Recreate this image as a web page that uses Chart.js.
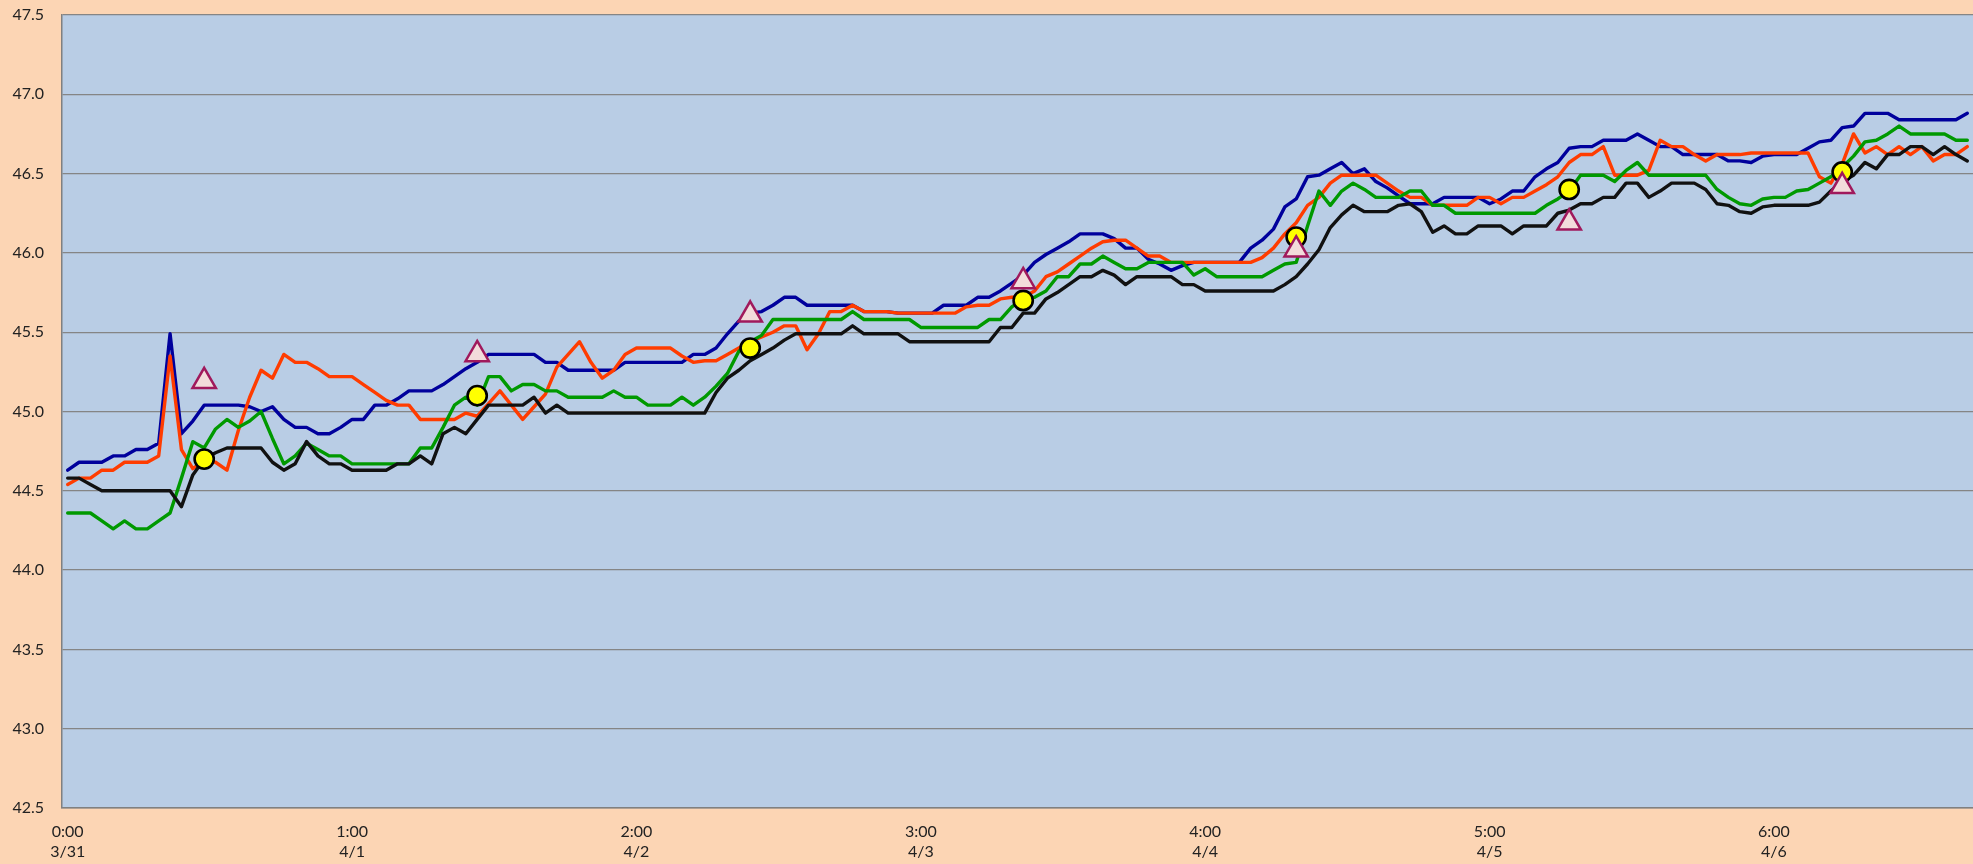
<!DOCTYPE html>
<html>
<head>
<meta charset="utf-8">
<title>Trend chart</title>
<script src="https://cdn.jsdelivr.net/npm/chart.js@4.4.0/dist/chart.umd.min.js"></script>
<style>
  html, body { margin: 0; padding: 0; background: #fcd5b4; overflow: hidden; }
  #trendChart { display: block; width: 1973px; height: 864px; }
</style>
</head>
<body>
<canvas id="trendChart" width="1973" height="864"></canvas>
<script>
// tick labels (one every 25 categories)
const timeLabels = ["0:00", "1:00", "2:00", "3:00", "4:00", "5:00", "6:00"]
const dateLabels = ["3/31", "4/1", "4/2", "4/3", "4/4", "4/5", "4/6"]
const labelEvery = 25
const pointCount = 168

// series values
const blue = [
  44.63, 44.68, 44.68, 44.68, 44.72, 44.72, 44.76, 44.76, 44.80, 45.49, 44.86, 44.94,
  45.04, 45.04, 45.04, 45.04, 45.03, 45.00, 45.03, 44.95, 44.90, 44.90, 44.86, 44.86,
  44.90, 44.95, 44.95, 45.04, 45.04, 45.08, 45.13, 45.13, 45.13, 45.17, 45.22, 45.27,
  45.31, 45.36, 45.36, 45.36, 45.36, 45.36, 45.31, 45.31, 45.26, 45.26, 45.26, 45.26,
  45.26, 45.31, 45.31, 45.31, 45.31, 45.31, 45.31, 45.36, 45.36, 45.40, 45.49, 45.57,
  45.62, 45.63, 45.67, 45.72, 45.72, 45.67, 45.67, 45.67, 45.67, 45.67, 45.63, 45.63,
  45.63, 45.62, 45.62, 45.62, 45.62, 45.67, 45.67, 45.67, 45.72, 45.72, 45.76, 45.81,
  45.86, 45.94, 45.99, 46.03, 46.07, 46.12, 46.12, 46.12, 46.09, 46.03, 46.03, 45.96,
  45.93, 45.89, 45.92, 45.94, 45.94, 45.94, 45.94, 45.94, 46.03, 46.08, 46.15, 46.29,
  46.34, 46.48, 46.49, 46.53, 46.57, 46.50, 46.53, 46.45, 46.41, 46.36, 46.31, 46.31,
  46.31, 46.35, 46.35, 46.35, 46.35, 46.31, 46.34, 46.39, 46.39, 46.48, 46.53, 46.57,
  46.66, 46.67, 46.67, 46.71, 46.71, 46.71, 46.75, 46.71, 46.67, 46.67, 46.62, 46.62,
  46.62, 46.62, 46.58, 46.58, 46.57, 46.61, 46.62, 46.62, 46.62, 46.66, 46.70, 46.71,
  46.79, 46.80, 46.88, 46.88, 46.88, 46.84, 46.84, 46.84, 46.84, 46.84, 46.84, 46.88
]

const orange = [
  44.54, 44.58, 44.58, 44.63, 44.63, 44.68, 44.68, 44.68, 44.72, 45.35, 44.76, 44.64,
  44.69, 44.68, 44.63, 44.88, 45.09, 45.26, 45.21, 45.36, 45.31, 45.31, 45.27, 45.22,
  45.22, 45.22, 45.17, 45.12, 45.07, 45.04, 45.04, 44.95, 44.95, 44.95, 44.95, 44.99,
  44.97, 45.05, 45.13, 45.04, 44.95, 45.03, 45.11, 45.28, 45.36, 45.44, 45.31, 45.21,
  45.26, 45.36, 45.40, 45.40, 45.40, 45.40, 45.35, 45.31, 45.32, 45.32, 45.36, 45.40,
  45.44, 45.47, 45.50, 45.54, 45.54, 45.39, 45.49, 45.63, 45.63, 45.67, 45.63, 45.63,
  45.63, 45.62, 45.62, 45.62, 45.62, 45.62, 45.62, 45.66, 45.67, 45.67, 45.71, 45.72,
  45.72, 45.76, 45.85, 45.88, 45.93, 45.98, 46.03, 46.07, 46.08, 46.08, 46.03, 45.98,
  45.98, 45.94, 45.94, 45.94, 45.94, 45.94, 45.94, 45.94, 45.94, 45.97, 46.03, 46.12,
  46.19, 46.30, 46.35, 46.44, 46.49, 46.49, 46.49, 46.49, 46.44, 46.39, 46.35, 46.35,
  46.30, 46.30, 46.30, 46.30, 46.35, 46.35, 46.31, 46.35, 46.35, 46.39, 46.43, 46.48,
  46.57, 46.62, 46.62, 46.67, 46.49, 46.49, 46.49, 46.52, 46.71, 46.67, 46.67, 46.62,
  46.58, 46.62, 46.62, 46.62, 46.63, 46.63, 46.63, 46.63, 46.63, 46.63, 46.48, 46.44,
  46.56, 46.75, 46.63, 46.67, 46.62, 46.67, 46.62, 46.67, 46.58, 46.62, 46.62, 46.67
]

const green = [
  44.36, 44.36, 44.36, 44.31, 44.26, 44.31, 44.26, 44.26, 44.31, 44.36, 44.58, 44.81,
  44.77, 44.89, 44.95, 44.90, 44.94, 45.00, 44.83, 44.67, 44.72, 44.80, 44.76, 44.72,
  44.72, 44.67, 44.67, 44.67, 44.67, 44.67, 44.67, 44.77, 44.77, 44.90, 45.04, 45.09,
  45.04, 45.22, 45.22, 45.13, 45.17, 45.17, 45.13, 45.13, 45.09, 45.09, 45.09, 45.09,
  45.13, 45.09, 45.09, 45.04, 45.04, 45.04, 45.09, 45.04, 45.09, 45.16, 45.24, 45.38,
  45.44, 45.48, 45.58, 45.58, 45.58, 45.58, 45.58, 45.58, 45.58, 45.63, 45.58, 45.58,
  45.58, 45.58, 45.58, 45.53, 45.53, 45.53, 45.53, 45.53, 45.53, 45.58, 45.58, 45.66,
  45.71, 45.72, 45.76, 45.85, 45.85, 45.93, 45.93, 45.98, 45.94, 45.90, 45.90, 45.94,
  45.94, 45.94, 45.94, 45.86, 45.90, 45.85, 45.85, 45.85, 45.85, 45.85, 45.89, 45.93,
  45.94, 46.17, 46.39, 46.30, 46.39, 46.44, 46.40, 46.35, 46.35, 46.35, 46.39, 46.39,
  46.30, 46.30, 46.25, 46.25, 46.25, 46.25, 46.25, 46.25, 46.25, 46.25, 46.30, 46.34,
  46.39, 46.49, 46.49, 46.49, 46.45, 46.52, 46.57, 46.49, 46.49, 46.49, 46.49, 46.49,
  46.49, 46.40, 46.35, 46.31, 46.30, 46.34, 46.35, 46.35, 46.39, 46.40, 46.44, 46.48,
  46.54, 46.61, 46.70, 46.71, 46.75, 46.80, 46.75, 46.75, 46.75, 46.75, 46.71, 46.71
]

const black = [
  44.58, 44.58, 44.54, 44.50, 44.50, 44.50, 44.50, 44.50, 44.50, 44.50, 44.40, 44.60,
  44.70, 44.74, 44.77, 44.77, 44.77, 44.77, 44.68, 44.63, 44.67, 44.81, 44.72, 44.67,
  44.67, 44.63, 44.63, 44.63, 44.63, 44.67, 44.67, 44.72, 44.67, 44.86, 44.90, 44.86,
  44.95, 45.04, 45.04, 45.04, 45.04, 45.09, 44.99, 45.04, 44.99, 44.99, 44.99, 44.99,
  44.99, 44.99, 44.99, 44.99, 44.99, 44.99, 44.99, 44.99, 44.99, 45.12, 45.21, 45.26,
  45.32, 45.36, 45.40, 45.45, 45.49, 45.49, 45.49, 45.49, 45.49, 45.54, 45.49, 45.49,
  45.49, 45.49, 45.44, 45.44, 45.44, 45.44, 45.44, 45.44, 45.44, 45.44, 45.53, 45.53,
  45.62, 45.62, 45.71, 45.75, 45.80, 45.85, 45.85, 45.89, 45.86, 45.80, 45.85, 45.85,
  45.85, 45.85, 45.80, 45.80, 45.76, 45.76, 45.76, 45.76, 45.76, 45.76, 45.76, 45.80,
  45.85, 45.93, 46.02, 46.16, 46.24, 46.30, 46.26, 46.26, 46.26, 46.30, 46.31, 46.26,
  46.13, 46.17, 46.12, 46.12, 46.17, 46.17, 46.17, 46.12, 46.17, 46.17, 46.17, 46.25,
  46.27, 46.31, 46.31, 46.35, 46.35, 46.44, 46.44, 46.35, 46.39, 46.44, 46.44, 46.44,
  46.40, 46.31, 46.30, 46.26, 46.25, 46.29, 46.30, 46.30, 46.30, 46.30, 46.32, 46.39,
  46.45, 46.49, 46.57, 46.53, 46.62, 46.62, 46.67, 46.67, 46.62, 46.67, 46.62, 46.58
]

// marker series: category index of each marker and its value
const markerIndex = [12, 36, 60, 84, 108, 132, 156]
const circleValues = [44.70, 45.10, 45.40, 45.70, 46.10, 46.40, 46.51]
const triangleValues = [45.19, 45.36, 45.61, 45.82, 46.02, 46.19, 46.42]

// y axis
const yMin = 42.5
const yMax = 47.5
const yStep = 0.5

// build category labels, blank between the labelled ones
const categories = []
for (let i = 0; i < pointCount; i++) {
  const k = i / labelEvery
  if (i % labelEvery === 0 && k < timeLabels.length) {
    categories.push([timeLabels[k], dateLabels[k]])
  } else {
    categories.push("")
  }
}

function sparse(values) {
  const out = new Array(pointCount).fill(null)
  markerIndex.forEach((idx, j) => {
    out[idx] = values[j]
  })
  return out
}

// paint page and plot area backgrounds
const backgroundPlugin = {
  id: "backgrounds",
  beforeDraw(chart) {
    const { ctx, chartArea, width, height } = chart
    ctx.save()
    ctx.fillStyle = "#fcd5b4"
    ctx.fillRect(0, 0, width, height)
    ctx.fillStyle = "#b9cde5"
    ctx.fillRect(chartArea.left, chartArea.top, chartArea.right - chartArea.left, chartArea.bottom - chartArea.top)
    ctx.restore()
  },
}

function lineSet(label, data, color) {
  return {
    label: label,
    data: data,
    borderColor: color,
    backgroundColor: color,
    borderWidth: 3.4,
    pointRadius: 0,
    tension: 0,
    fill: false,
    borderJoinStyle: "round",
    borderCapStyle: "round",
  }
}

Chart.defaults.font.family = "Lato, 'DejaVu Sans', sans-serif"
Chart.defaults.color = "#222222"

const tickFont = { size: 16, lineHeight: 1.3 }

new Chart(document.getElementById("trendChart"), {
  type: "line",
  data: {
    labels: categories,
    datasets: [
      {
        label: "triangles",
        data: sparse(triangleValues),
        showLine: false,
        pointStyle: "triangle",
        pointRadius: 13.5,
        pointBackgroundColor: "#f2dcdb",
        pointBorderColor: "#a0195c",
        pointBorderWidth: 2.5,
      },
      {
        label: "circles",
        data: sparse(circleValues),
        showLine: false,
        pointStyle: "circle",
        pointRadius: 9.6,
        pointBackgroundColor: "#ffff00",
        pointBorderColor: "#000000",
        pointBorderWidth: 2.6,
      },
      lineSet("black", black, "#111111"),
      lineSet("green", green, "#009900"),
      lineSet("orange", orange, "#ff3c00"),
      lineSet("blue", blue, "#00009c"),
    ],
  },
  options: {
    responsive: false,
    animation: false,
    events: [],
    // no automatic padding for the big markers, the plot runs to the right edge
    layout: { autoPadding: false, padding: { top: 15, right: 0, bottom: 0, left: 0 } },
    plugins: {
      legend: { display: false },
      tooltip: { enabled: false },
    },
    scales: {
      x: {
        type: "category",
        offset: true,
        // invisible tick marks push the labels down instead of ticks.padding
        grid: { display: true, drawOnChartArea: false, drawTicks: true, tickLength: 13, tickColor: "rgba(0,0,0,0)" },
        border: { display: true, color: "#808080", width: 1.5 },
        ticks: {
          autoSkip: false,
          maxRotation: 0,
          minRotation: 0,
          padding: 0,
          color: "#222222",
          font: tickFont,
        },
        afterFit: (scale) => {
          scale.height = 56
        },
      },
      y: {
        min: yMin,
        max: yMax,
        grid: { color: "#858585", lineWidth: 1.2, drawTicks: true, tickLength: 18, tickColor: "rgba(0,0,0,0)" },
        border: { display: true, color: "#808080", width: 1.5 },
        ticks: {
          stepSize: yStep,
          padding: 0,
          color: "#222222",
          font: tickFont,
          callback: (value) => value.toFixed(1),
        },
        afterFit: (scale) => {
          scale.width = 62
        },
      },
    },
  },
  plugins: [backgroundPlugin],
})
</script>
</body>
</html>
